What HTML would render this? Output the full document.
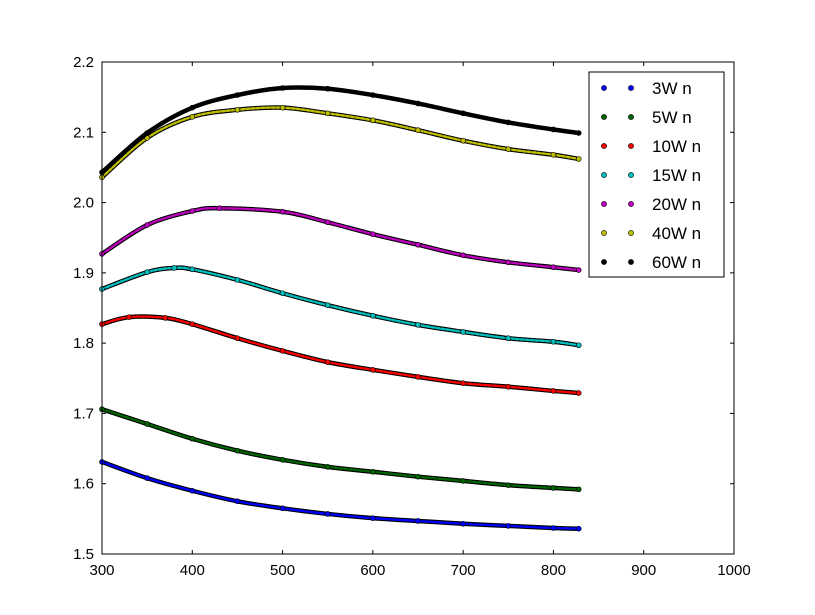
<!DOCTYPE html>
<html><head><meta charset="utf-8"><style>
body{margin:0;background:#fff;}
svg{display:block;font-family:"Liberation Sans","DejaVu Sans",sans-serif;}
</style></head><body>
<svg id="chart" width="815" height="615" xmlns="http://www.w3.org/2000/svg">
<rect width="815" height="615" fill="#fff"/>
<g id="plot"></g>
<g id="axes"></g>
<g id="legend"></g>
</svg>
<script>
const seriesNames = ["3W n","5W n","10W n","15W n","20W n","40W n","60W n"];
const seriesColors = ["#0000ff","#006400","#ff0000","#00bfbf","#bf00bf","#bfbf00","#000000"];
const x3 = [300,350,400,450,500,550,600,650,700,750,800,828];
const y3 = [1.631,1.608,1.590,1.575,1.565,1.557,1.551,1.547,1.543,1.540,1.537,1.536];
const x5 = [300,350,400,450,500,550,600,650,700,750,800,828];
const y5 = [1.706,1.685,1.664,1.647,1.634,1.624,1.617,1.610,1.604,1.598,1.594,1.592];
const x10 = [300,330,370,400,450,500,550,600,650,700,750,800,828];
const y10 = [1.827,1.837,1.836,1.827,1.807,1.789,1.773,1.762,1.752,1.743,1.738,1.732,1.729];
const x15 = [300,350,380,400,450,500,550,600,650,700,750,800,828];
const y15 = [1.877,1.901,1.907,1.905,1.890,1.871,1.854,1.839,1.826,1.816,1.807,1.802,1.797];
const x20 = [300,350,400,430,500,550,600,650,700,750,800,828];
const y20 = [1.927,1.968,1.988,1.992,1.987,1.972,1.955,1.940,1.925,1.915,1.908,1.904];
const x40 = [300,350,400,450,500,550,600,650,700,750,800,828];
const y40 = [2.036,2.092,2.122,2.132,2.135,2.127,2.117,2.103,2.088,2.076,2.068,2.062];
const x60 = [300,350,400,450,500,550,600,650,700,750,800,828];
const y60 = [2.043,2.099,2.135,2.153,2.163,2.162,2.153,2.141,2.127,2.114,2.104,2.099];
const xTicks = [300,400,500,600,700,800,900,1000];
const yTicks = [1.5,1.6,1.7,1.8,1.9,2.0,2.1,2.2];
const yTickLabels = ["1.5","1.6","1.7","1.8","1.9","2.0","2.1","2.2"];

const L=102,R=734,T=62,B=554;
const xs=v=>L+(v-300)/700*(R-L);
const ys=v=>B-(v-1.5)/0.7*(B-T);
const NS="http://www.w3.org/2000/svg";
function mk(tag,attrs,parent){const e=document.createElementNS(NS,tag);for(const k in attrs)e.setAttribute(k,attrs[k]);parent.appendChild(e);return e;}
const plot=document.getElementById('plot'),axes=document.getElementById('axes'),leg=document.getElementById('legend');
const allX=[x3,x5,x10,x15,x20,x40,x60],allY=[y3,y5,y10,y15,y20,y40,y60];
function pathD(xa,ya){
  const p=xa.map((x,i)=>[xs(x),ys(ya[i])]);
  let d="M"+p[0][0]+","+p[0][1];
  for(let i=0;i<p.length-1;i++){
    const p0=p[Math.max(0,i-1)],p1=p[i],p2=p[i+1],p3=p[Math.min(p.length-1,i+2)];
    const c1=[p1[0]+(p2[0]-p0[0])/6,p1[1]+(p2[1]-p0[1])/6];
    const c2=[p2[0]-(p3[0]-p1[0])/6,p2[1]-(p3[1]-p1[1])/6];
    d+=" C"+c1+" "+c2+" "+p2;
  }
  return d;
}
allX.forEach((xa,s)=>{
  const g=mk('g',{},plot);
  
  
  const d=pathD(xa,allY[s]);
  mk('path',{d:d,fill:'none',stroke:'#000','stroke-width':4.5,'stroke-linecap':'round'},g);
  mk('path',{d:d,fill:'none',stroke:seriesColors[s],'stroke-width':2.4,'stroke-linecap':'round','stroke-dasharray':'3 2'},g);
  xa.forEach((x,i)=>{
    const c=mk('circle',{cx:xs(x),cy:ys(allY[s][i]),r:2.5,fill:seriesColors[s],stroke:'#000','stroke-width':0.6},g);
    
    
  });
});
mk('rect',{x:L,y:T,width:R-L,height:B-T,fill:'none',stroke:'#000','stroke-width':1},axes);
xTicks.forEach(v=>{
  const x=xs(v);
  mk('line',{x1:x,x2:x,y1:B,y2:B-4,stroke:'#000'},axes);
  mk('line',{x1:x,x2:x,y1:T,y2:T+4,stroke:'#000'},axes);
  const t=mk('text',{x:x,y:B+21,'text-anchor':'middle','font-size':15},axes);t.textContent=v;
  
  
});
yTicks.forEach((v,i)=>{
  const y=ys(v);
  mk('line',{x1:L,x2:L+4,y1:y,y2:y,stroke:'#000'},axes);
  mk('line',{x1:R,x2:R-4,y1:y,y2:y,stroke:'#000'},axes);
  const t=mk('text',{x:L-8,y:y+5,'text-anchor':'end','font-size':15},axes);t.textContent=yTickLabels[i];
  
  
});
mk('rect',{x:589,y:72,width:135,height:205,fill:'#fff',stroke:'#000','stroke-width':1},leg);
seriesNames.forEach((n,i)=>{
  const y=88+i*29;
  const g=mk('g',{},leg);
  
  
  mk('circle',{cx:604,cy:y,r:2.6,fill:seriesColors[i],stroke:'#000','stroke-width':0.6},g);
  mk('circle',{cx:631,cy:y,r:2.6,fill:seriesColors[i],stroke:'#000','stroke-width':0.6},g);
  const t=mk('text',{x:652,y:y+6,'font-size':17},g);t.textContent=n;
});
</script>
</body></html>
